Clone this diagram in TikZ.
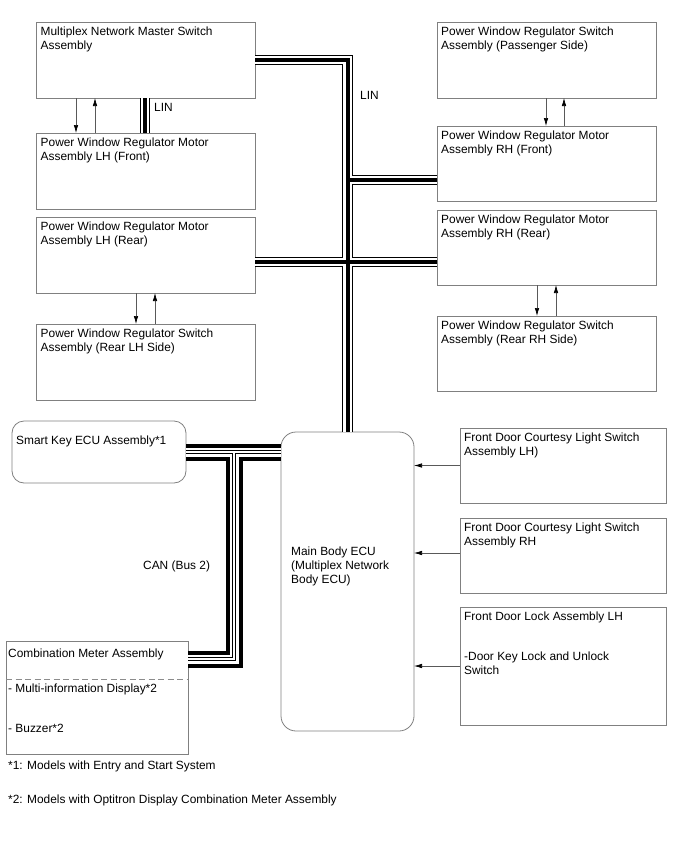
\documentclass[tikz,border=0pt]{standalone}
\usepackage{fontspec}
\setmainfont{Liberation Sans}
\usetikzlibrary{positioning, arrows.meta}

\begin{document}
\begin{tikzpicture}[x=1pt, y=-1pt]
  \tikzset{
    unit/.style={rectangle, draw=black!50, line width=0.8pt, anchor=north west,
      inner sep=0pt, outer sep=0pt, minimum width=219pt, minimum height=76pt},
    ecubox/.style={unit, rounded corners=#1},
    utxt/.style={anchor=north west, inner sep=0pt, align=left,
      font=\fontsize{11.9}{14}\selectfont},
    sig/.style={draw=black!65, line width=0.7pt,
      -{Latex[length=8pt, width=4.5pt, color=black]}},
  }
  \useasboundingbox (0,0) rectangle (688,852);

  % left column
  \node[unit] (msw) at (36,22) {};
  \node[unit, below=35pt of msw] (lhf) {};
  \node[unit, below=8pt of lhf] (lhr) {};
  \node[unit, below=31pt of lhr] (lhs) {};
  % right column
  \node[unit] (psw) at (437,22) {};
  \node[unit, minimum height=75pt, below=28pt of psw] (rhf) {};
  \node[unit, minimum height=75pt, below=9pt of rhf] (rhr) {};
  \node[unit, minimum height=75pt, below=31pt of rhr] (rhs) {};
  % ECUs
  \node[ecubox=12pt, minimum width=174pt, minimum height=62pt] (ska) at (12,421) {};
  \node[ecubox=15pt, minimum width=133pt, minimum height=299pt] (ecu) at (281,432) {};
  \node[unit, minimum width=182pt, minimum height=113pt] (cmb) at (6,641) {};
  % door switches
  \node[unit, minimum width=206pt, minimum height=75pt] (cdl) at (460,428) {};
  \node[unit, minimum width=206pt, minimum height=75pt, below=15pt of cdl] (cdr) {};
  \node[unit, minimum width=206pt, minimum height=118pt, below=14pt of cdr] (dlk) {};

  % texts
  \node[utxt] (msw-t) at ([shift={(4.5pt,-4.7pt)}]msw.north west) {Multiplex Network Master Switch\\Assembly};
  \node[utxt] (lhf-t) at ([shift={(4.5pt,-4.7pt)}]lhf.north west) {Power Window Regulator Motor\\Assembly LH (Front)};
  \node[utxt] (lhr-t) at ([shift={(4.5pt,-4.7pt)}]lhr.north west) {Power Window Regulator Motor\\Assembly LH (Rear)};
  \node[utxt] (lhs-t) at ([shift={(4.5pt,-4.7pt)}]lhs.north west) {Power Window Regulator Switch\\Assembly (Rear LH Side)};
  \node[utxt] (psw-t) at ([shift={(4pt,-5pt)}]psw.north west) {Power Window Regulator Switch\\Assembly (Passenger Side)};
  \node[utxt] (rhf-t) at ([shift={(4pt,-5pt)}]rhf.north west) {Power Window Regulator Motor\\Assembly RH (Front)};
  \node[utxt] (rhr-t) at ([shift={(4pt,-5pt)}]rhr.north west) {Power Window Regulator Motor\\Assembly RH (Rear)};
  \node[utxt] (rhs-t) at ([shift={(4pt,-5pt)}]rhs.north west) {Power Window Regulator Switch\\Assembly (Rear RH Side)};
  \node[utxt] (ska-t) at ([shift={(4pt,-15pt)}]ska.north west) {Smart Key ECU Assembly*1};
  \node[utxt] (ecu-t) at ([shift={(10pt,-114.7pt)}]ecu.north west) {Main Body ECU\\(Multiplex Network\\Body ECU)};
  \node[utxt] (cdl-t) at ([shift={(4pt,-4.7pt)}]cdl.north west) {Front Door Courtesy Light Switch\\Assembly LH)};
  \node[utxt] (cdr-t) at ([shift={(4pt,-4.7pt)}]cdr.north west) {Front Door Courtesy Light Switch\\Assembly RH};
  \node[utxt] (dlk-t) at ([shift={(4pt,-4.7pt)}]dlk.north west) {Front Door Lock Assembly LH\\[26pt]-Door Key Lock and Unlock\\Switch};
  \node[utxt] (cmb-t) at ([shift={(2pt,-8pt)}]cmb.north west) {Combination Meter Assembly};
  \node[utxt] (cmb-l) at ([shift={(2pt,-42.7pt)}]cmb.north west) {- Multi-information Display*2\\[26pt]- Buzzer*2};
  \draw[draw=black!45, line width=0.8pt, dash pattern=on 6pt off 3.5pt]
    ([yshift=-38pt]cmb.north west) -- ([yshift=-38pt]cmb.north east);

  % bus labels and footnotes
  \node[utxt] (lin1) at (360,90.7) {LIN};
  \node[utxt] (lin2) at (154,103.3) {LIN};
  \node[utxt] (can) at (143,561) {CAN (Bus 2)};
  \node[utxt] (fn1) at (8,760.7) {*1: Models with Entry and Start System};
  \node[utxt] (fn2) at (8,794.7) {*2: Models with Optitron Display Combination Meter Assembly};

  % LIN bus, drawn in layers so that the junctions merge
  \coordinate (rhfin) at ([yshift=-16.5pt]rhf.west);
  \coordinate (lhrout) at ([yshift=-7pt]lhr.east);
  \foreach \w/\c in {10.5pt/black, 8.5pt/white, 4pt/black}{
    \draw[line width=\w, draw=\c] (msw.east) -| (ecu.north);
    \draw[line width=\w, draw=\c] (rhfin -| ecu.north) -- (rhfin);
    \draw[line width=\w, draw=\c] (lhrout) -- (lhrout -| rhr.west);
    \draw[line width=\w, draw=\c] ([xshift=109pt]msw.south west) -- ([xshift=109pt]lhf.north west);
  }

  % CAN bus
  \coordinate (canj) at ([xshift=48pt]ska.east);
  \coordinate (cmbin) at ([yshift=38.5pt]cmb.east);
  \foreach \w/\c in {17pt/black, 9pt/white, 4.5pt/black, 2.5pt/white}{
    \draw[line width=\w, draw=\c] (ska.east) -- (ska.east -| ecu.west);
    \draw[line width=\w, draw=\c] (canj) |- (cmbin);
  }

  % switch signals
  \draw[sig] ([xshift=40pt]msw.south west) -- ([xshift=40pt]lhf.north west);
  \draw[sig] ([xshift=59pt]lhf.north west) -- ([xshift=59pt]msw.south west);
  \draw[sig] ([xshift=109pt]psw.south west) -- ([xshift=109pt]rhf.north west);
  \draw[sig] ([xshift=127pt]rhf.north west) -- ([xshift=127pt]psw.south west);
  \draw[sig] ([xshift=100pt]lhr.south west) -- ([xshift=100pt]lhs.north west);
  \draw[sig] ([xshift=119pt]lhs.north west) -- ([xshift=119pt]lhr.south west);
  \draw[sig] ([xshift=100pt]rhr.south west) -- ([xshift=100pt]rhs.north west);
  \draw[sig] ([xshift=119pt]rhs.north west) -- ([xshift=119pt]rhr.south west);
  \draw[sig] (cdl.west) -- (cdl.west -| ecu.east);
  \draw[sig] ([yshift=2.5pt]cdr.west) -- ([yshift=2.5pt]cdr.west -| ecu.east);
  \draw[sig] (dlk.west) -- (dlk.west -| ecu.east);
\end{tikzpicture}
\end{document}
